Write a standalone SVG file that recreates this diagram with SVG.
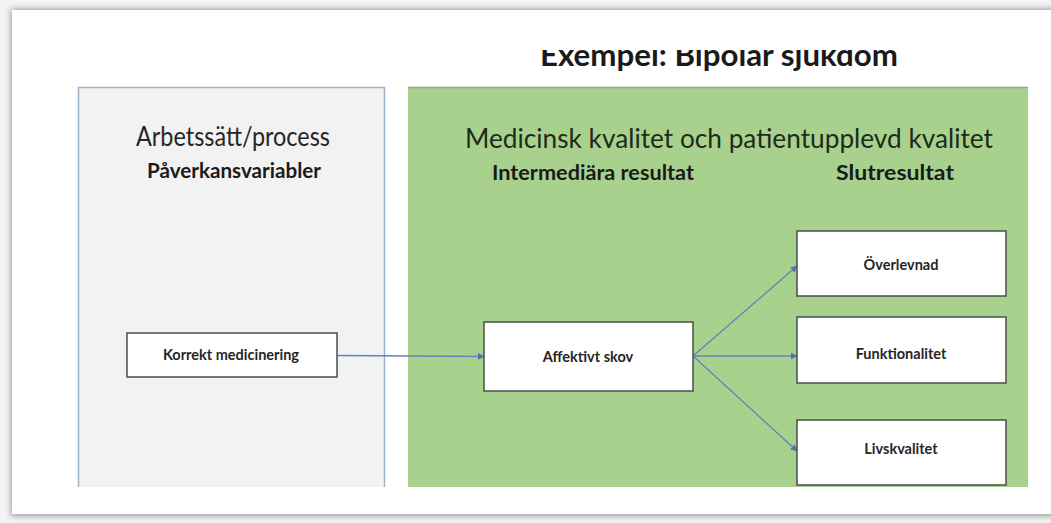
<svg xmlns="http://www.w3.org/2000/svg" width="1051" height="523" viewBox="0 0 1051 523">
<defs>
<style>
.box{fill:#ffffff;stroke:#4a4f48;stroke-width:1.5}
.lbl{font-family:Lato,"Open Sans","Liberation Sans",sans-serif;font-weight:bold;font-size:14.5px;fill:#262626;text-anchor:middle}
.head{font-family:Lato,"Open Sans","Liberation Sans",sans-serif;font-size:27px;text-anchor:middle}
.sub{font-family:Lato,"Open Sans","Liberation Sans",sans-serif;font-weight:bold;font-size:20px;text-anchor:middle;fill:#1a1a1a}
.conn{stroke:#5b86b8;stroke-width:1.3;fill:none;marker-end:url(#arr)}
</style>
<marker id="arr" viewBox="0 0 10 10" refX="9" refY="5" markerWidth="7" markerHeight="7" orient="auto" markerUnits="userSpaceOnUse">
<path d="M0,0 L10,5 L0,10 z" fill="#4a78b0"/>
</marker>
<filter id="sh" x="-5%" y="-5%" width="110%" height="110%">
<feGaussianBlur stdDeviation="3"/>
</filter>
<clipPath id="titleclip" clipPathUnits="userSpaceOnUse"><rect x="0" y="50" width="1051" height="40"/></clipPath>
</defs>
<rect x="0" y="0" width="1051" height="523" fill="#f4f4f4"/>
<rect x="11" y="9" width="1050" height="507" fill="#9a9a9a" filter="url(#sh)"/>
<rect x="12" y="10" width="1045" height="504" fill="#ffffff"/>

<g id="panel-left">
<rect x="78" y="87" width="307" height="400" fill="#f2f2f2"/>
<path d="M78.5,487 V87.5 H384.5 V487" fill="none" stroke="#9fb3cc" stroke-width="1.5"/>
<text class="head" x="233" y="146" fill="#262626" textLength="194" lengthAdjust="spacingAndGlyphs">Arbetssätt/process</text>
<text class="sub" x="234" y="178" textLength="174" lengthAdjust="spacingAndGlyphs">Påverkansvariabler</text>
</g>

<g id="panel-right">
<rect x="408" y="87" width="620" height="400" fill="#a9d18e"/>
<line x1="408" y1="87.5" x2="1028" y2="87.5" stroke="#8fa889" stroke-width="1.5"/>
<text class="head" x="729" y="148" fill="#1e2b18" textLength="528" lengthAdjust="spacingAndGlyphs">Medicinsk kvalitet och patientupplevd kvalitet</text>
<text class="sub" x="593" y="180" textLength="202" lengthAdjust="spacingAndGlyphs">Intermediära resultat</text>
<text class="sub" x="895" y="180" textLength="118" lengthAdjust="spacingAndGlyphs">Slutresultat</text>
</g>

<g id="title">
<text x="719" y="66" clip-path="url(#titleclip)" font-family="Lato,'Open Sans','Liberation Sans',sans-serif" font-size="31" font-weight="bold" text-anchor="middle" fill="#1a1a1a" textLength="358" lengthAdjust="spacingAndGlyphs">Exempel: Bipolar sjukdom</text>
</g>

<g id="connectors">
<line class="conn" x1="337" y1="355.5" x2="484" y2="356.5"/>
<line class="conn" x1="693" y1="356" x2="797" y2="266"/>
<line class="conn" x1="693" y1="356" x2="797" y2="356"/>
<line class="conn" x1="693" y1="356" x2="797" y2="451"/>
</g>

<g id="node-korrekt">
<rect class="box" x="127" y="333" width="210" height="44"/>
<text class="lbl" x="231" y="360">Korrekt medicinering</text>
</g>
<g id="node-affektivt">
<rect class="box" x="484" y="322" width="209" height="69"/>
<text class="lbl" x="588" y="362">Affektivt skov</text>
</g>
<g id="node-overlevnad">
<rect class="box" x="797" y="231" width="209" height="65"/>
<text class="lbl" x="901" y="270">Överlevnad</text>
</g>
<g id="node-funktionalitet">
<rect class="box" x="797" y="317" width="209" height="66"/>
<text class="lbl" x="901" y="359">Funktionalitet</text>
</g>
<g id="node-livskvalitet">
<rect class="box" x="797" y="420" width="209" height="65"/>
<text class="lbl" x="901" y="454">Livskvalitet</text>
</g>
</svg>
